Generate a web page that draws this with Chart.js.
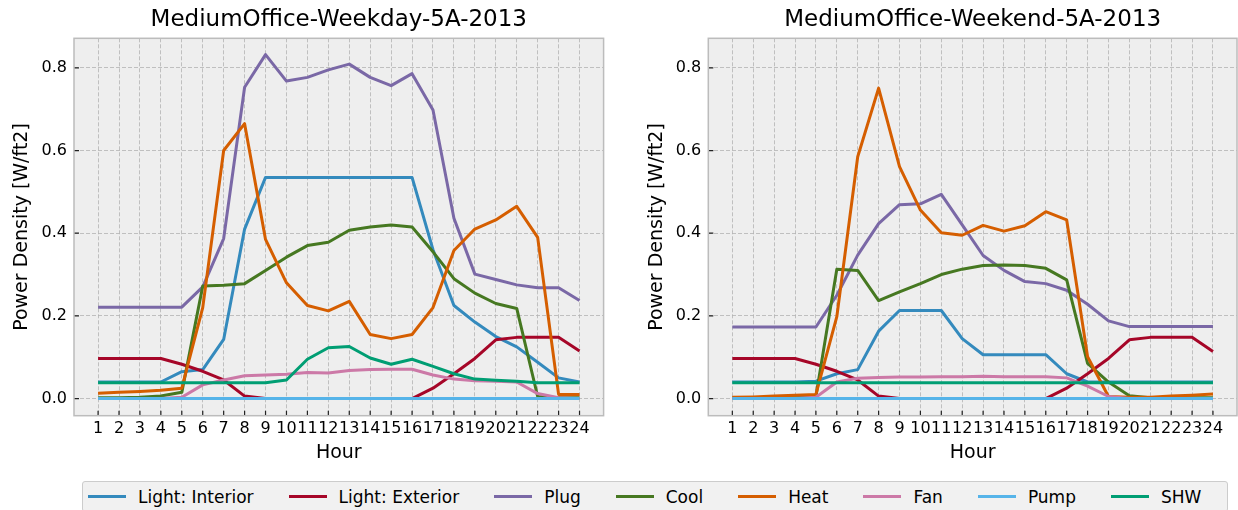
<!DOCTYPE html>
<html>
<head>
<meta charset="utf-8">
<script src="https://cdn.jsdelivr.net/npm/chart.js@4/dist/chart.umd.min.js"></script>
<style>
  body { margin: 0; background: #fff; width: 1238px; height: 510px; overflow: hidden; position: relative; font-family: 'DejaVu Sans', sans-serif; }
  canvas { position: absolute; top: 0; }
  #wd { left: 0; }
  #we { left: 620px; }
  #legend {
    position: absolute; left: 82px; top: 481px; width: 1146px; height: 31px;
    box-sizing: border-box; border: 1px solid #cccccc; border-radius: 3px; background: #f1f1f1;
    display: flex; align-items: center; gap: 35px; padding-left: 5px;
    font-size: 17px; color: #000;
  }
  .item { display: flex; align-items: center; white-space: nowrap; }
  .item i { display: inline-block; width: 38px; height: 2.8px; margin-right: 12px; }
</style>
</head>
<body>
<canvas id="wd" width="620" height="470"></canvas>
<canvas id="we" width="618" height="470"></canvas>
<div id="legend"></div>
<script>
const hours = [1, 2, 3, 4, 5, 6, 7, 8, 9, 10, 11, 12, 13, 14, 15, 16, 17, 18, 19, 20, 21, 22, 23, 24];
const yTicks = [0.0, 0.2, 0.4, 0.6, 0.8];
const names = ['Light: Interior', 'Light: Exterior', 'Plug', 'Cool', 'Heat', 'Fan', 'Pump', 'SHW'];
const colors = ['#348ABD', '#A60628', '#7A68A6', '#467821', '#D55E00', '#CC79A7', '#56B4E9', '#009E73'];

// weekday profiles
const lightInteriorWd = [0.040, 0.040, 0.040, 0.040, 0.065, 0.070, 0.143, 0.410, 0.535, 0.535, 0.535, 0.535, 0.535, 0.535, 0.535, 0.535, 0.360, 0.225, 0.185, 0.150, 0.125, 0.088, 0.050, 0.040];
const lightExteriorWd = [0.097, 0.097, 0.097, 0.097, 0.083, 0.066, 0.045, 0.006, 0, 0, 0, 0, 0, 0, 0, 0, 0.025, 0.060, 0.097, 0.142, 0.148, 0.148, 0.148, 0.115];
const plugWd = [0.221, 0.221, 0.221, 0.221, 0.221, 0.270, 0.387, 0.753, 0.832, 0.768, 0.777, 0.795, 0.809, 0.777, 0.757, 0.786, 0.698, 0.436, 0.301, 0.288, 0.275, 0.268, 0.268, 0.237];
const coolWd = [0.002, 0.002, 0.003, 0.006, 0.015, 0.272, 0.274, 0.278, 0.310, 0.342, 0.370, 0.378, 0.407, 0.415, 0.420, 0.415, 0.355, 0.290, 0.255, 0.230, 0.218, 0.005, 0.002, 0.002];
const heatWd = [0.013, 0.015, 0.017, 0.020, 0.025, 0.220, 0.600, 0.665, 0.385, 0.280, 0.225, 0.212, 0.235, 0.155, 0.145, 0.155, 0.220, 0.358, 0.410, 0.432, 0.465, 0.390, 0.010, 0.010];
const fanWd = [0, 0, 0, 0, 0.003, 0.033, 0.045, 0.055, 0.057, 0.059, 0.063, 0.062, 0.068, 0.070, 0.071, 0.071, 0.057, 0.047, 0.043, 0.042, 0.040, 0.012, 0.002, 0];
const pumpWd = [0, 0, 0, 0, 0, 0, 0, 0, 0, 0, 0, 0, 0, 0, 0, 0, 0, 0, 0, 0, 0, 0, 0, 0];
const shwWd = [0.038, 0.038, 0.038, 0.038, 0.038, 0.038, 0.038, 0.038, 0.038, 0.045, 0.095, 0.123, 0.126, 0.098, 0.083, 0.095, 0.078, 0.060, 0.047, 0.044, 0.042, 0.038, 0.038, 0.038];

// weekend profiles
const lightInteriorWe = [0.040, 0.040, 0.040, 0.040, 0.042, 0.060, 0.070, 0.163, 0.213, 0.213, 0.213, 0.145, 0.106, 0.106, 0.106, 0.106, 0.060, 0.040, 0.040, 0.040, 0.040, 0.040, 0.040, 0.040];
const lightExteriorWe = [0.097, 0.097, 0.097, 0.097, 0.083, 0.066, 0.045, 0.006, 0, 0, 0, 0, 0, 0, 0, 0, 0.025, 0.060, 0.097, 0.142, 0.148, 0.148, 0.148, 0.114];
const plugWe = [0.173, 0.173, 0.173, 0.173, 0.173, 0.250, 0.347, 0.423, 0.469, 0.471, 0.494, 0.420, 0.346, 0.310, 0.283, 0.278, 0.262, 0.228, 0.188, 0.174, 0.174, 0.174, 0.174, 0.174];
const coolWe = [0.002, 0.002, 0.002, 0.002, 0.005, 0.313, 0.310, 0.237, 0.258, 0.278, 0.300, 0.313, 0.322, 0.323, 0.322, 0.315, 0.287, 0.085, 0.040, 0.007, 0.002, 0.002, 0.002, 0.002];
const heatWe = [0.003, 0.004, 0.006, 0.008, 0.010, 0.198, 0.585, 0.751, 0.561, 0.456, 0.401, 0.395, 0.419, 0.405, 0.418, 0.452, 0.432, 0.101, 0.005, 0.003, 0.003, 0.006, 0.008, 0.011];
const fanWe = [0, 0, 0, 0, 0.003, 0.040, 0.049, 0.051, 0.052, 0.052, 0.053, 0.053, 0.054, 0.053, 0.053, 0.053, 0.050, 0.030, 0.005, 0, 0, 0, 0, 0];
const pumpWe = [0, 0, 0, 0, 0, 0, 0, 0, 0, 0, 0, 0, 0, 0, 0, 0, 0, 0, 0, 0, 0, 0, 0, 0];
const shwWe = [0.038, 0.038, 0.038, 0.038, 0.038, 0.038, 0.038, 0.038, 0.038, 0.038, 0.038, 0.038, 0.038, 0.038, 0.038, 0.038, 0.038, 0.038, 0.038, 0.038, 0.038, 0.038, 0.038, 0.038];

Chart.defaults.font.family = "'DejaVu Sans', sans-serif";
Chart.defaults.color = '#000';

// grey panel, frame and inward tick marks like the bmh style
const panel = {
    id: 'panel',
    beforeDraw(chart) {
        const a = chart.chartArea, ctx = chart.ctx;
        ctx.save();
        ctx.fillStyle = '#eeeeee';
        ctx.fillRect(a.left, a.top, a.right - a.left, a.bottom - a.top);
        ctx.restore();
    },
    afterDraw(chart) {
        const a = chart.chartArea, ctx = chart.ctx;
        const x = chart.scales.x, y = chart.scales.y;
        ctx.save();
        ctx.strokeStyle = '#222';
        ctx.lineWidth = 1.2;
        ctx.beginPath();
        x.ticks.forEach(t => {
            const px = x.getPixelForValue(t.value);
            ctx.moveTo(px, a.bottom);
            ctx.lineTo(px, a.bottom - 5);
        });
        y.ticks.forEach(t => {
            const py = y.getPixelForValue(t.value);
            ctx.moveTo(a.left, py);
            ctx.lineTo(a.left + 5, py);
        });
        ctx.stroke();
        ctx.strokeStyle = '#bcbcbc';
        ctx.lineWidth = 1.5;
        ctx.strokeRect(a.left, a.top, a.right - a.left, a.bottom - a.top);
        ctx.restore();
    }
};

function drawDay(id, title, series, axisWidth, padRight, yTitlePad) {
    new Chart(document.getElementById(id), {
        type: 'line',
        data: {
            datasets: series.map((vals, k) => ({
                label: names[k],
                data: hours.map((h, i) => ({ x: h, y: vals[i] })),
                borderColor: colors[k],
                borderWidth: 3,
                borderJoinStyle: 'round',
                pointRadius: 0,
                tension: 0,
                fill: false,
                order: series.length - k
            }))
        },
        options: {
            responsive: false,
            animation: false,
            layout: { padding: { left: 0, right: padRight, top: 0, bottom: 0 } },
            plugins: {
                legend: { display: false },
                tooltip: { enabled: false },
                title: {
                    display: true,
                    text: title,
                    fullSize: false,
                    font: { size: 23, weight: 'normal' },
                    padding: { top: 6, bottom: 4.7 }
                }
            },
            scales: {
                x: {
                    type: 'linear',
                    min: -0.15,
                    max: 25.15,
                    afterBuildTicks: s => { s.ticks = hours.map(h => ({ value: h })); },
                    afterFit: s => { s.height = 54.3; },
                    grid: { color: '#b2b2b2', lineWidth: 0.8, drawTicks: false },
                    border: { display: false, dash: [4, 2] },
                    ticks: { padding: 4, maxRotation: 0, autoSkip: false, font: { size: 16 }, callback: v => String(v) },
                    title: { display: true, text: 'Hour', font: { size: 19 }, padding: { top: 0, bottom: 5.6 } }
                },
                y: {
                    min: -0.0415,
                    max: 0.8715,
                    afterBuildTicks: s => { s.ticks = yTicks.map(v => ({ value: v })); },
                    afterFit: s => { s.width = axisWidth; },
                    grid: { color: '#b2b2b2', lineWidth: 0.8, drawTicks: false },
                    border: { display: false, dash: [4, 2] },
                    ticks: { padding: 7, font: { size: 16 }, callback: v => v.toFixed(1) },
                    title: { display: true, text: 'Power Density [W/ft2]', font: { size: 19 }, padding: { top: yTitlePad, bottom: 0 } }
                }
            }
        },
        plugins: [panel]
    });
}

drawDay('wd', 'MediumOffice-Weekday-5A-2013',
    [lightInteriorWd, lightExteriorWd, plugWd, coolWd, heatWd, fanWd, pumpWd, shwWd], 74, 16.4, 10.6);
drawDay('we', 'MediumOffice-Weekend-5A-2013',
    [lightInteriorWe, lightExteriorWe, plugWe, coolWe, heatWe, fanWe, pumpWe, shwWe], 88.3, 1, 25.6);

// shared legend under both panels
document.getElementById('legend').innerHTML = names.map((n, k) =>
    `<span class="item"><i style="background:${colors[k]}"></i>${n}</span>`).join('');
</script>
</body>
</html>
